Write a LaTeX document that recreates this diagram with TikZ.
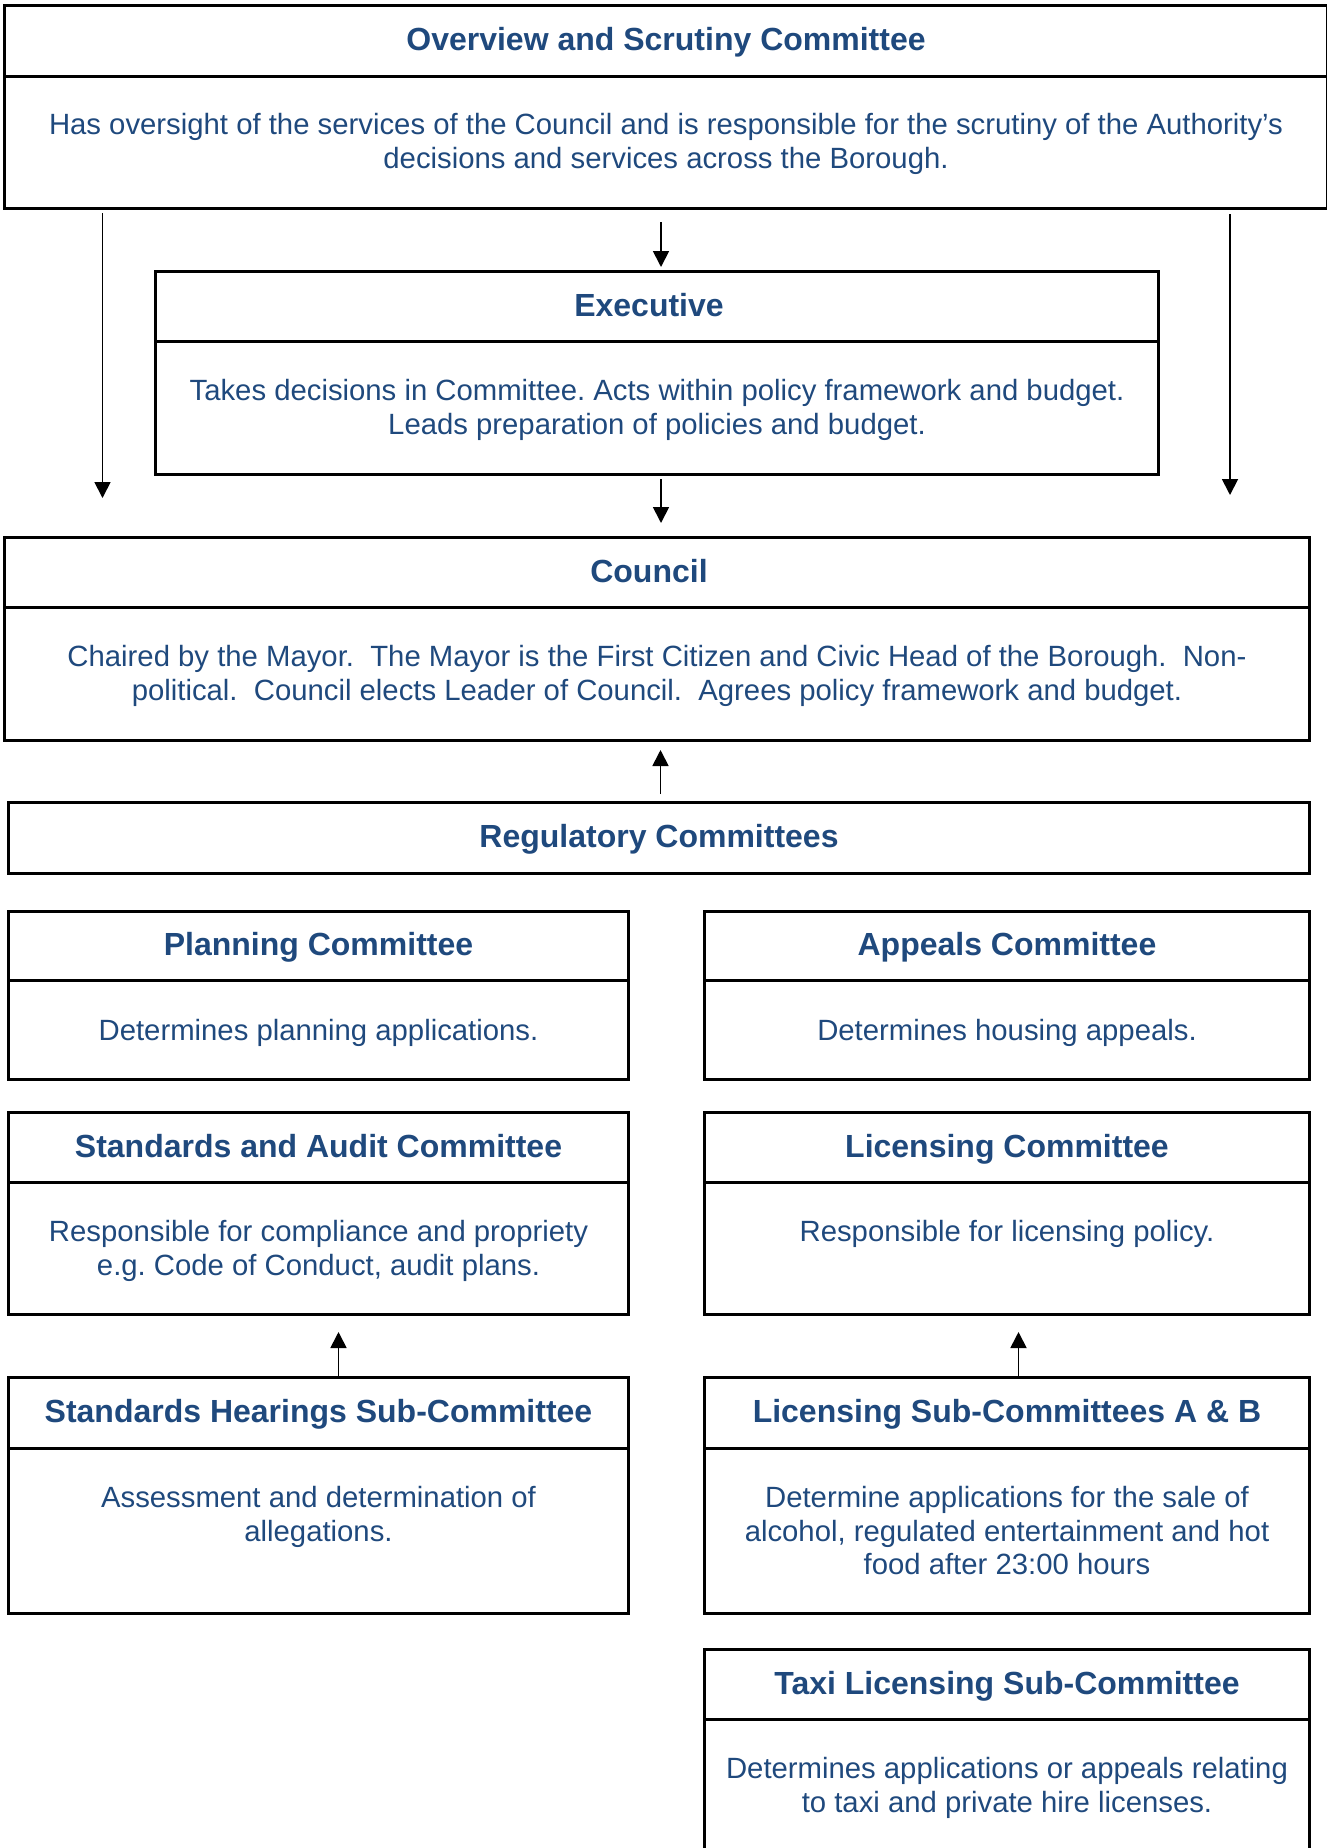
\documentclass[tikz,border=0pt]{standalone}
\usepackage{fontspec}
\setmainfont{Liberation Sans}
\usetikzlibrary{positioning,arrows.meta}
\definecolor{navy}{RGB}{31,73,125}
\frenchspacing

\tikzset{
  titlebox/.style={draw, line width=3pt, anchor=north west, minimum height=70pt, text height=22pt, text depth=3pt, text=navy, font=\fontsize{32}{38}\selectfont\bfseries},
  bodybox/.style={draw, line width=3pt, anchor=north west},
  bodytext/.style={inner sep=0pt, align=center, text=navy, font=\fontsize{29.3}{33.7}\selectfont},
  link/.style={line width=1.8pt}
}

\begin{document}
\begin{tikzpicture}[x=1pt, y=-1pt, >={Triangle[width=16pt,length=16pt]}]
    \useasboundingbox (0,0) rectangle (1327,1848);

    % top of the structure
    \node[titlebox, minimum width=1323pt, minimum height=71pt] (ovt) at (3,4) {Overview and Scrutiny Committee};
    \node[bodybox, minimum width=1323pt, minimum height=132pt] (ovb) at (3,75) {};
    \node[bodytext, below=35pt of ovt.south] (ovx) {Has oversight of the services of the Council and is responsible for the scrutiny of the Authority’s\\decisions and services across the Borough.};

    \node[titlebox, minimum width=1003pt] (ext) at (154,270) {Executive\hspace*{16pt}};
    \node[bodybox, minimum width=1003pt, minimum height=133pt] (exb) at (154,340) {};
    \node[bodytext, below=36pt of ext.south] (exx) {Takes decisions in Committee. Acts within policy framework and budget.\\Leads preparation of policies and budget.};

    \node[titlebox, minimum width=1305pt] (cot) at (3,536) {Council\hspace*{16pt}};
    \node[bodybox, minimum width=1305pt, minimum height=133pt] (cob) at (3,606) {};
    \node[bodytext, below=36pt of cot.south] (cox) {Chaired by the Mayor.\ \ The Mayor is the First Citizen and Civic Head of the Borough.\ \ Non-\\political.\ \ Council elects Leader of Council.\ \ Agrees policy framework and budget.};

    \node[titlebox, minimum width=1301pt, minimum height=71pt] (reg) at (7,801) {Regulatory Committees};

    % regulatory committees, left column
    \node[titlebox, minimum width=620pt, minimum height=69pt] (plt) at (7,910) {Planning Committee};
    \node[bodybox, minimum width=620pt, minimum height=99pt] (plb) at (7,979) {};
    \node[bodytext, below=37pt of plt.south] (plx) {Determines planning applications.};

    \node[titlebox, minimum width=620pt] (sat) at (7,1111) {Standards and Audit Committee};
    \node[bodybox, minimum width=620pt, minimum height=132pt] (sab) at (7,1181) {};
    \node[bodytext, below=36pt of sat.south] (sax) {Responsible for compliance and propriety\\e.g. Code of Conduct, audit plans.};

    \node[titlebox, minimum width=620pt, minimum height=71pt] (hst) at (7,1376) {Standards Hearings Sub-Committee};
    \node[bodybox, minimum width=620pt, minimum height=165pt] (hsb) at (7,1447) {};
    \node[bodytext, below=36pt of hst.south] (hsx) {Assessment and determination of\\allegations.};

    % regulatory committees, right column
    \node[titlebox, minimum width=605pt, minimum height=69pt] (apt) at (703,910) {Appeals Committee};
    \node[bodybox, minimum width=605pt, minimum height=99pt] (apb) at (703,979) {};
    \node[bodytext, below=37pt of apt.south] (apx) {Determines housing appeals.};

    \node[titlebox, minimum width=605pt] (lit) at (703,1111) {Licensing Committee};
    \node[bodybox, minimum width=605pt, minimum height=132pt] (lib) at (703,1181) {};
    \node[bodytext, below=36pt of lit.south] (lix) {Responsible for licensing policy.};

    \node[titlebox, minimum width=605pt, minimum height=71pt] (lst) at (703,1376) {Licensing Sub-Committees A \& B};
    \node[bodybox, minimum width=605pt, minimum height=165pt] (lsb) at (703,1447) {};
    \node[bodytext, below=36pt of lst.south] (lsx) {Determine applications for the sale of\\alcohol, regulated entertainment and hot\\food after 23:00 hours};

    \node[titlebox, minimum width=605pt] (txt) at (703,1648) {Taxi Licensing Sub-Committee};
    \node[bodybox, minimum width=605pt, minimum height=200pt] (txb) at (703,1718) {};
    \node[bodytext, below=36pt of txt.south] (txx) {Determines applications or appeals relating\\to taxi and private hire licenses.};

    % arrows
    \draw[link][->] ([xshift=-5pt,yshift=-12pt]ovb.south) -- ([xshift=4pt,yshift=3pt]ext.north); % scrutiny to executive
    \draw[link][->] ([xshift=4pt,yshift=-3pt]exb.south) -- ([xshift=4pt,yshift=13pt]cot.north); % executive to council
    \draw[link][->] ([xshift=99.5pt,yshift=-3pt]ovb.south west) -- ([xshift=99.5pt,yshift=38pt]cot.north west);
    \draw[link][->] ([xshift=-99pt,yshift=-4pt]ovb.south east) -- ([xshift=-81pt,yshift=41pt]cot.north east);
    \draw[link][->] ([xshift=1.5pt,yshift=7pt]reg.north) -- ([xshift=3.5pt,yshift=-8pt]cob.south); % regulatory to council
    \draw[link][->] ([xshift=20pt]hst.north) -- ([xshift=20pt,yshift=-16pt]sab.south);
    \draw[link][->] ([xshift=11.5pt]lst.north) -- ([xshift=11.5pt,yshift=-16pt]lib.south);
\end{tikzpicture}
\end{document}
